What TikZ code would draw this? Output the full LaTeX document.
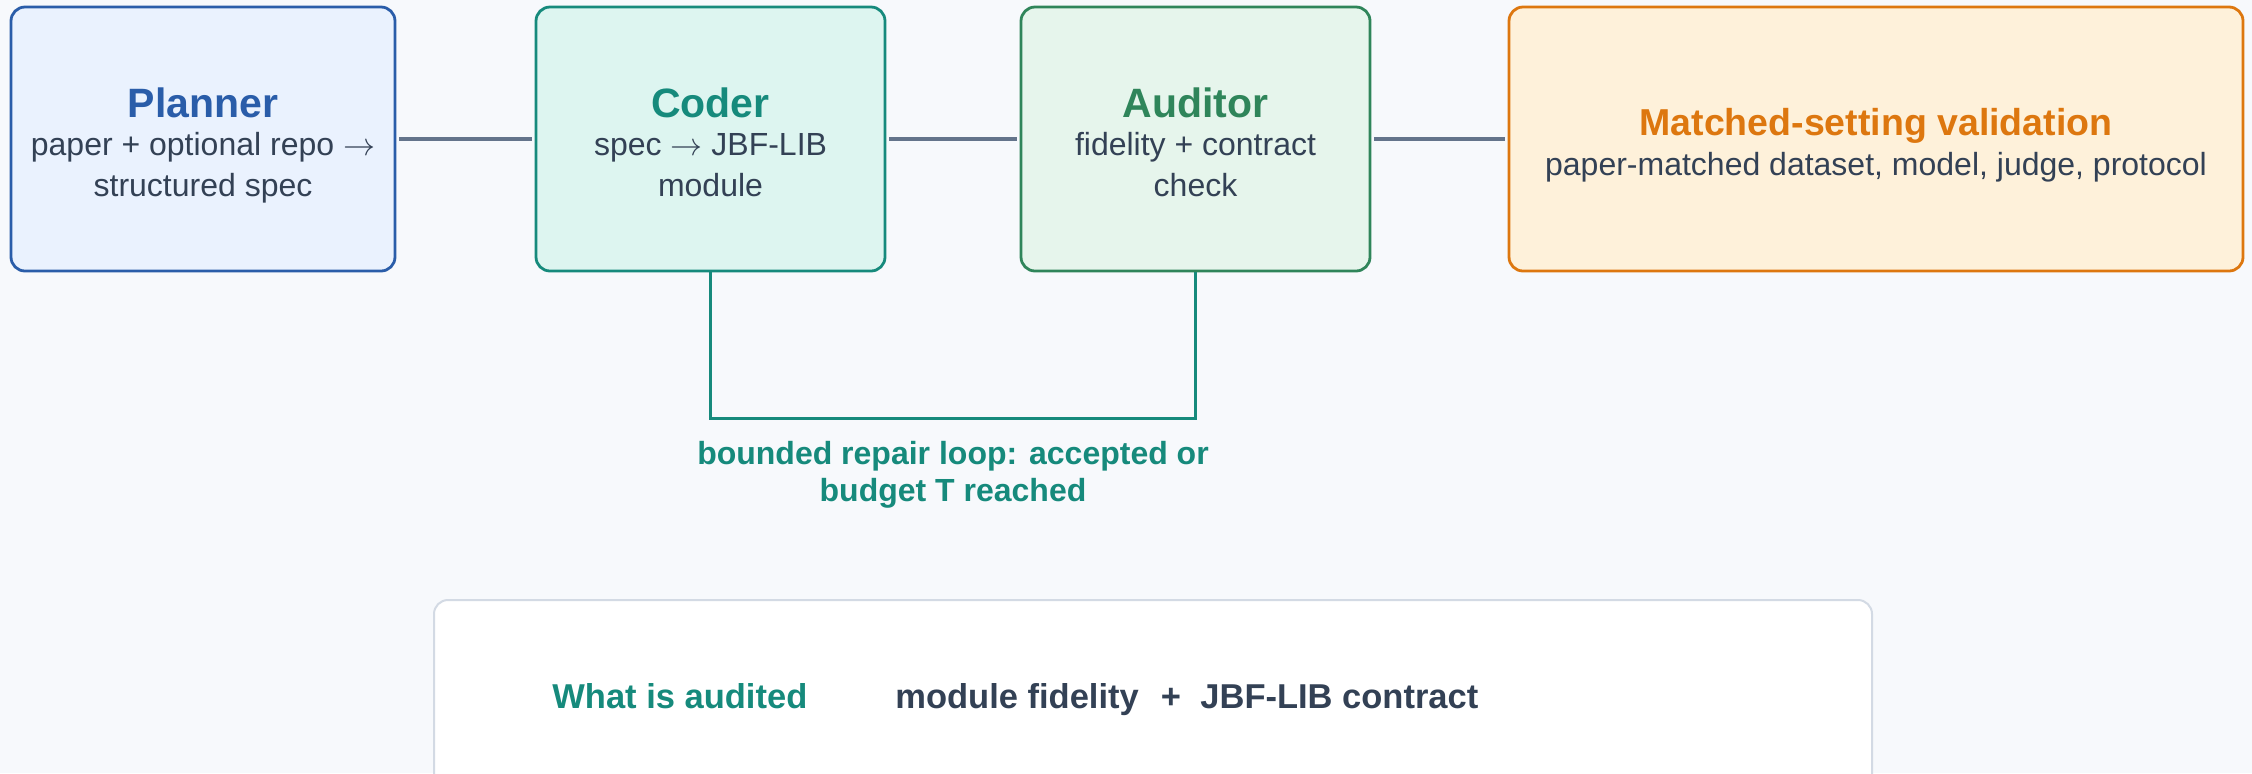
\documentclass[tikz,border=0pt]{standalone}
\usepackage{fix-cm}
\usepackage{fontspec}
\setmainfont{Liberation Sans}
\definecolor{bgc}{HTML}{F7F9FC}
\definecolor{pblue}{HTML}{2A5DA9}
\definecolor{pfill}{HTML}{EAF2FE}
\definecolor{cteal}{HTML}{168A7C}
\definecolor{cfill}{HTML}{DDF5F0}
\definecolor{agreen}{HTML}{2F855A}
\definecolor{afill}{HTML}{E6F5EC}
\definecolor{morange}{HTML}{DD770F}
\definecolor{mfill}{HTML}{FEF1DA}
\definecolor{slatetext}{HTML}{334155}
\definecolor{connc}{HTML}{64748B}
\definecolor{panelborder}{HTML}{D3DAE4}
\newcommand{\rarr}{$\rightarrow$}
\begin{document}
\begin{tikzpicture}[x=0.5pt,y=-0.5pt,
  box/.style={rectangle, rounded corners=7pt, line width=1.4pt, inner sep=0pt, minimum height=132pt},
  ttl/.style={inner sep=0pt, anchor=base, font=\fontsize{20.5pt}{24pt}\selectfont\bfseries},
  mttl/.style={inner sep=0pt, anchor=base, font=\fontsize{18.75pt}{22pt}\selectfont\bfseries},
  bdy/.style={inner sep=0pt, anchor=base, text=slatetext, font=\fontsize{16pt}{20pt}\selectfont},
  lbl/.style={inner sep=0pt, anchor=base, text=cteal, font=\fontsize{16pt}{20pt}\selectfont\bfseries},
  btxt/.style={inner sep=0pt, anchor=base west, font=\fontsize{17.25pt}{21pt}\selectfont\bfseries},
  conn/.style={draw=connc, line width=2pt, shorten <=1.5pt, shorten >=1.5pt},
  loopline/.style={draw=cteal, line width=1.5pt}
]
\clip (0,0) rectangle (2252,773);
\fill[bgc] (0,0) rectangle (2252,773);

% boxes
\node[box, draw=pblue, fill=pfill, minimum width=192pt] (planner) at (203,139) {};
\node[box, draw=cteal, fill=cfill, minimum width=174.5pt] (coder) at (710.5,139) {};
\node[box, draw=agreen, fill=afill, minimum width=174.5pt] (auditor) at (1195.5,139) {};
\node[box, draw=morange, fill=mfill, minimum width=367pt] (matched) at (1876,139) {};

% connectors
\draw[conn] (planner.east) -- (coder.west);
\draw[conn] (coder.east) -- (auditor.west);
\draw[conn] (auditor.east) -- (matched.west);

% repair loop
\draw[loopline] (coder.south) -- ++(0,146) -| (auditor.south);

% texts
\node[ttl, text=pblue] (plannerT) at (203,117) {Planner};
\node[bdy] (plannerB1) at (203,155) {paper + optional repo \rarr};
\node[bdy] (plannerB2) at (203,196) {structured spec};

\node[ttl, text=cteal] (coderT) at (710.5,117) {Coder};
\node[bdy] (coderB1) at (710.5,155) {spec \rarr{} JBF-LIB};
\node[bdy] (coderB2) at (710.5,196) {module};

\node[ttl, text=agreen] (auditorT) at (1195.5,117) {Auditor};
\node[bdy] (auditorB1) at (1195.5,155) {fidelity + contract};
\node[bdy] (auditorB2) at (1195.5,196) {check};

\node[mttl, text=morange] (matchedT) at (1876,135) {Matched-setting validation};
\node[bdy] (matchedB) at (1876,175) {paper-matched dataset, model, judge, protocol};

\node[lbl] (loopA) at (953,464) {bounded repair loop: accepted or};
\node[lbl] (loopB) at (953,501) {budget T reached};

% bottom panel
\node[rectangle, rounded corners=7pt, draw=panelborder, fill=white, line width=1pt,
      minimum width=719pt, minimum height=110pt, inner sep=0pt] (panel) at (1153,710) {};
\node[btxt, text=cteal] (what) at (552,708) {What is audited};
\node[btxt, text=slatetext] (mf) at (895,708) {module fidelity};
\node[btxt, anchor=base, text=slatetext] (plus) at (1171,708) {+};
\node[btxt, text=slatetext] (jc) at (1200,708) {JBF-LIB contract};
\end{tikzpicture}
\end{document}
